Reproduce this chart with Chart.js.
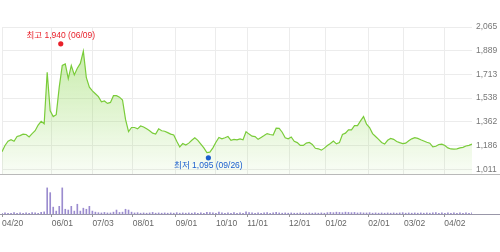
<!DOCTYPE html>
<html>
<head>
<meta charset="utf-8">
<script src="https://cdn.jsdelivr.net/npm/chart.js@4"></script>
<style>
  body { margin: 0; background: #fff; }
  #wrap { position: relative; width: 500px; height: 252px; }
  canvas { position: absolute; left: 0; }
  #priceChart { top: 0; }
  #volChart { top: 183px; }
</style>
</head>
<body>
<div id="wrap">
  <canvas id="priceChart" width="500" height="183"></canvas>
  <canvas id="volChart" width="500" height="69"></canvas>
</div>
<script>
// closing price, one sample per ~3px of the reference
const prices = [
  1141, 1187, 1218, 1229, 1218, 1253, 1260, 1271, 1268, 1250,
  1275, 1296, 1338, 1366, 1348, 1729, 1443, 1401, 1415, 1619,
  1780, 1791, 1682, 1780, 1710, 1759, 1795, 1886, 1689, 1619,
  1591, 1570, 1549, 1510, 1517, 1499, 1506, 1556, 1556, 1545,
  1524, 1380, 1289, 1320, 1320, 1310, 1331, 1324, 1310, 1296,
  1278, 1271, 1310, 1296, 1292, 1282, 1271, 1264, 1218, 1176,
  1201, 1190, 1204, 1225, 1243, 1225, 1197, 1169, 1134, 1137,
  1169, 1211, 1246, 1236, 1244, 1253, 1225, 1232, 1229, 1236,
  1229, 1289, 1271, 1256, 1253, 1232, 1246, 1260, 1275, 1268,
  1264, 1315, 1313, 1285, 1244, 1236, 1250, 1218, 1208, 1187,
  1187, 1204, 1209, 1194, 1166, 1162, 1152, 1167, 1187, 1201,
  1220, 1199, 1208, 1268, 1278, 1303, 1303, 1334, 1334, 1369,
  1401, 1345, 1320, 1275, 1253, 1232, 1209, 1197, 1225, 1239,
  1232, 1216, 1208, 1201, 1204, 1222, 1236, 1244, 1239, 1229,
  1220, 1211, 1204, 1176, 1181, 1194, 1197, 1187, 1169, 1161,
  1159, 1162, 1169, 1173, 1183, 1188, 1197
];

const volumes = [
  3, 4, 3, 3, 5, 3, 4, 3, 4, 3,
  5, 4, 3, 6, 8, 99, 81, 26, 11, 29,
  99, 18, 15, 29, 11, 37, 11, 22, 18, 29,
  11, 7, 5, 4, 6, 4, 4, 7, 15, 6,
  7, 18, 15, 7, 4, 5, 3, 4, 3, 4,
  6, 3, 4, 3, 4, 3, 4, 3, 5, 3,
  4, 3, 4, 3, 5, 3, 4, 3, 6, 5,
  4, 3, 7, 4, 3, 4, 3, 5, 3, 4,
  3, 8, 5, 4, 3, 4, 3, 4, 5, 3,
  4, 6, 4, 3, 4, 3, 4, 3, 3, 4,
  3, 3, 4, 3, 4, 3, 4, 3, 5, 6,
  5, 7, 6, 5, 7, 6, 5, 6, 4, 5,
  4, 4, 5, 3, 4, 3, 4, 3, 4, 3,
  4, 3, 4, 5, 3, 4, 3, 4, 3, 4,
  3, 4, 3, 4, 5, 3, 4, 3, 4, 3,
  4, 3, 4, 3, 4, 3, 4
];

const tickIdx = [0, 16.5, 30, 43.4, 57.7, 71, 81.4, 95.3, 107.4, 121.6, 133.4, 146.8];
const tickLabels = ['04/20', '06/01', '07/03', '08/01', '09/01', '10/10', '11/01', '12/01', '01/02', '02/01', '03/02', '04/02'];
const priceTicks = [1011, 1186, 1362, 1538, 1713, 1889, 2065];

const hiVal = 1940, hiIdx = 19.5, hiText = '최고 1,940 (06/09)';
const loVal = 1095, loIdx = 68.5, loText = '최저 1,095 (09/26)';

const FONT = '"Liberation Sans", "Noto Sans CJK KR", Arial, sans-serif';
const lastIdx = prices.length - 1;

const fmt = v => Math.floor(v).toLocaleString('en-US');

const marks = {
    id: 'marks',
    afterDatasetsDraw(chart) {
        const c = chart.ctx, xs = chart.scales.x, ys = chart.scales.y;
        c.save();
        c.fillStyle = '#b9b9b9';
        c.fillRect(0, Math.round(chart.chartArea.bottom), chart.width, 1);
        c.font = '8.5px ' + FONT;
        c.textAlign = 'center';
        c.textBaseline = 'middle';

        let x = xs.getPixelForValue(hiIdx), y = ys.getPixelForValue(hiVal);
        c.fillStyle = '#e8202a';
        c.beginPath(); c.arc(x, y, 2.6, 0, Math.PI * 2); c.fill();
        c.fillText(hiText, x, y - 8);

        x = xs.getPixelForValue(loIdx); y = ys.getPixelForValue(loVal);
        c.fillStyle = '#1b5fce';
        c.beginPath(); c.arc(x, y, 2.6, 0, Math.PI * 2); c.fill();
        c.fillText(loText, x, y + 7.5);
        c.restore();
    }
};

const baseLine = {
    id: 'baseLine',
    afterDatasetsDraw(chart) {
        const c = chart.ctx;
        c.save();
        c.fillStyle = '#9997a8';
        c.fillRect(0, Math.round(chart.chartArea.bottom), chart.width, 1);
        c.restore();
    }
};

const setTicks = s => { s.ticks = tickIdx.map(v => ({ value: v })); };

new Chart(document.getElementById('priceChart'), {
    type: 'line',
    data: {
        datasets: [{
            data: prices.map((p, i) => ({ x: i, y: p })),
            borderColor: '#7acc3a',
            borderWidth: 1.2,
            pointRadius: 0,
            tension: 0,
            fill: 'start',
            backgroundColor: ctx => {
                const a = ctx.chart.chartArea;
                if (!a) return 'rgba(140,215,80,0.2)';
                const g = ctx.chart.ctx.createLinearGradient(0, a.top, 0, a.bottom);
                g.addColorStop(0, 'rgba(140,215,80,0.55)');
                g.addColorStop(1, 'rgba(140,215,80,0.05)');
                return g;
            }
        }]
    },
    options: {
        responsive: false,
        animation: false,
        devicePixelRatio: 1,
        layout: { padding: { top: 27, left: 2, right: 0, bottom: 1 } },
        plugins: { legend: { display: false }, tooltip: { enabled: false } },
        scales: {
            x: {
                type: 'linear', min: 0, max: lastIdx,
                afterBuildTicks: setTicks,
                afterFit: s => { s.height = 0; },
                ticks: { display: false },
                grid: { color: '#ececec', drawTicks: false },
                border: { display: false }
            },
            y: {
                position: 'right', min: 976, max: 2065,
                afterBuildTicks: s => { s.ticks = priceTicks.map(v => ({ value: v })); },
                afterFit: s => { s.width = 28; },
                ticks: { padding: 4, color: '#777', font: { family: FONT, size: 8.5 }, callback: v => fmt(v) },
                grid: { color: '#ececec', drawTicks: false },
                border: { display: false }
            }
        }
    },
    plugins: [marks]
});

new Chart(document.getElementById('volChart'), {
    type: 'bar',
    data: {
        datasets: [{
            data: volumes.map((v, i) => ({ x: i, y: v })),
            backgroundColor: '#9b8ccf',
            barThickness: 1
        }]
    },
    options: {
        responsive: false,
        animation: false,
        devicePixelRatio: 1,
        layout: { padding: { top: 2, left: 2, right: 28, bottom: 0 } },
        plugins: { legend: { display: false }, tooltip: { enabled: false } },
        scales: {
            x: {
                type: 'linear', min: 0, max: lastIdx, offset: false,
                afterBuildTicks: setTicks,
                afterFit: s => { s.height = 38; },
                ticks: {
                    align: 'start', autoSkip: false, maxRotation: 0, padding: 2,
                    color: '#666', font: { family: FONT, size: 8.5 },
                    callback: v => tickLabels[tickIdx.indexOf(v)]
                },
                grid: { drawOnChartArea: false, tickLength: 3, color: '#999', offset: false },
                border: { display: false }
            },
            y: { display: false, min: 0, max: 110 }
        }
    },
    plugins: [baseLine]
});
</script>
</body>
</html>
